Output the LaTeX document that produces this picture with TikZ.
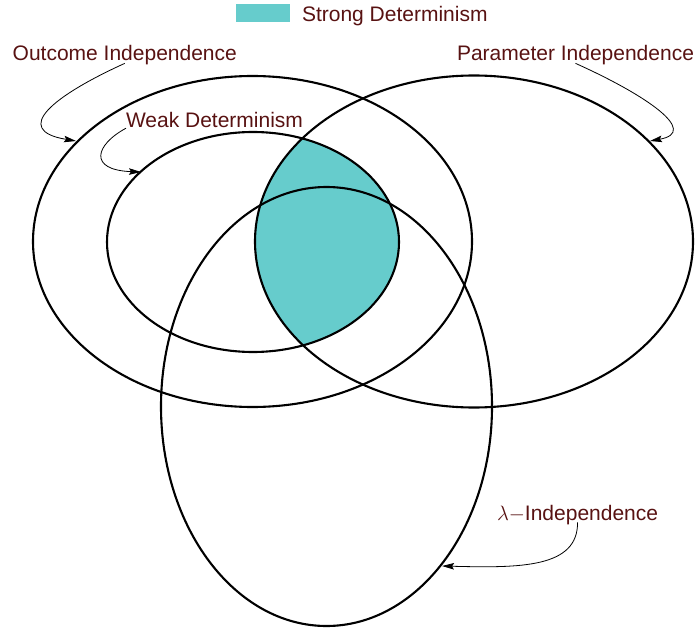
\documentclass[tikz,border=0pt]{standalone}
\usepackage{fontspec}
\setmainfont{Liberation Sans}
\usetikzlibrary{arrows.meta}
\definecolor{labelred}{RGB}{88,18,18}
\definecolor{strongfill}{RGB}{102,204,204}
\begin{document}
\begin{tikzpicture}[x=1pt,y=-1pt,
  setline/.style={line width=2.1pt,black},
  lbl/.style={inner sep=0pt,outer sep=0pt,anchor=base west,text=labelred,
    font=\fontsize{21}{25}\selectfont},
  pointer/.style={line width=0.8pt,black,-{Stealth[length=12pt,width=6.5pt,inset=2pt]}}]
\useasboundingbox (0,0) rectangle (696,631);

% Strong determinism: weak determinism intersected with parameter independence
\begin{scope}
  \clip (253,242) ellipse [x radius=146, y radius=110];
  \fill[strongfill] (474,241.5) ellipse [x radius=219, y radius=166];
\end{scope}

% the four sets
\draw[setline] (252.5,241.5) ellipse [x radius=219.5, y radius=165.5]; % outcome independence
\draw[setline] (474,241.5) ellipse [x radius=219, y radius=166];       % parameter independence
\draw[setline] (253,242) ellipse [x radius=146, y radius=110];          % weak determinism
\draw[setline] (326.5,406.5) ellipse [x radius=165.5, y radius=219.5];  % lambda independence

% legend
\fill[strongfill] (236,4) rectangle (290,22);
\node[lbl] (sd) at (302,22) {Strong Determinism};

% labels
\node[lbl] (oi) at (12.7,61) {Outcome Independence};
\node[lbl] (pi) at (457,61) {Parameter Independence};
\node[lbl] (wd) at (126,128) {Weak Determinism};
\node[lbl] (li) at (497,520) {$\lambda{-}$Independence};

% points where the pointers meet the sets
\coordinate (oiTip) at (76,141);
\coordinate (piTip) at (650,141);
\coordinate (wdTip) at (141,172);
\coordinate (liTip) at (442,566);

\draw[pointer] ([yshift=2pt]oi.south) .. controls (55,95) and (10,130) .. (oiTip);
\draw[pointer] ([yshift=2pt]pi.south) .. controls (646,95) and (700,132) .. (piTip);
\draw[pointer] (wd.south west) .. controls (95,145) and (88,170) .. (wdTip);
\draw[pointer] ([yshift=2pt]li.south) .. controls (578,568) and (520,568) .. (liTip);
\end{tikzpicture}
\end{document}
